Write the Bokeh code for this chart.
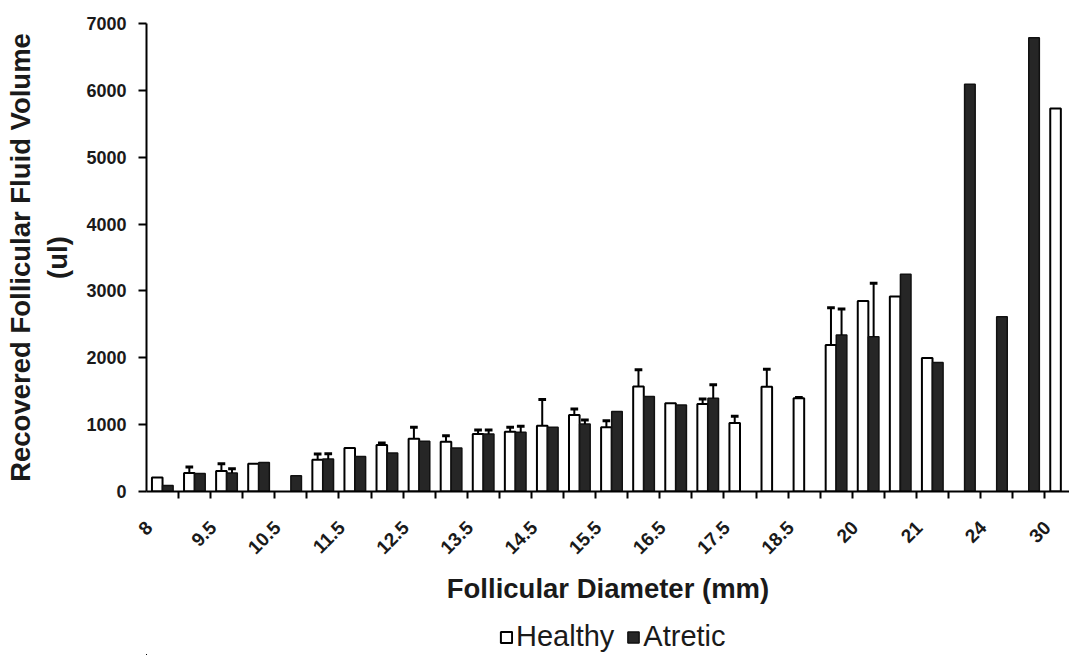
import math
from bokeh.plotting import figure
from bokeh.layouts import column
from bokeh.models import FixedTicker, Legend, LegendItem, ColumnDataSource, Range1d
from bokeh.embed import file_html
from bokeh.resources import INLINE

# ---- data ----
categories = ["8", "9", "9.5", "10", "10.5", "11", "11.5", "12", "12.5", "13",
              "13.5", "14", "14.5", "15", "15.5", "16", "16.5", "17", "17.5", "18",
              "18.5", "19", "20", "20.5", "21", "22", "24", "26", "30"]
healthy = [210, 275, 305, 415, 0, 475, 650, 695, 790, 745,
           860, 895, 985, 1145, 960, 1570, 1320, 1310, 1025, 1565,
           1395, 2190, 2850, 2915, 1995, 0, 0, 0, 5730]
healthy_err = [0, 90, 110, 0, 0, 85, 0, 30, 170, 90,
               60, 65, 390, 90, 100, 250, 0, 75, 100, 265,
               10, 560, 0, 0, 0, 0, 0, 0, 0]
atretic = [90, 270, 275, 435, 235, 485, 525, 575, 750, 650,
           860, 885, 960, 1010, 1195, 1420, 1295, 1395, 0, 0,
           0, 2340, 2315, 3250, 1930, 6090, 2615, 6785, 0]
atretic_err = [0, 0, 65, 0, 0, 80, 0, 0, 0, 0,
               60, 90, 0, 60, 0, 0, 0, 200, 0, 0,
               0, 390, 800, 0, 0, 0, 0, 0, 0]
y_ticks = [0, 1000, 2000, 3000, 4000, 5000, 6000, 7000]
series_names = ["Healthy", "Atretic"]

FONT = "Liberation Sans"
BW = 0.33        # bar width in category units
CAP = 0.12       # half width of error caps
LABEL_SHIFT = -0.42  # rotated tick labels sit slightly left of the category centre

n = len(categories)
idx = list(range(n))


def series_source(values, errs, offset):
    xs, tops, ex, ey0, ey1 = [], [], [], [], []
    for i, v, e in zip(idx, values, errs):
        if v > 0:
            xs.append(i + offset)
            tops.append(v)
            if e > 0:
                ex.append(i + offset)
                ey0.append(v)
                ey1.append(v + e)
    bars = ColumnDataSource(dict(x=xs, top=tops))
    errs_src = ColumnDataSource(dict(x=ex, y0=ey0, y1=ey1,
                                     cx0=[x - CAP for x in ex], cx1=[x + CAP for x in ex]))
    return bars, errs_src


p = figure(frame_width=923, frame_height=468,
           x_range=Range1d(-0.5, 28.27), y_range=Range1d(0, 7000),
           output_backend="svg", toolbar_location=None,
           min_border_left=146, min_border_right=0, min_border_top=23, min_border_bottom=124)
p.outline_line_color = None
p.grid.visible = False
p.background_fill_color = "white"
p.border_fill_color = "white"

h_bars, h_errs = series_source(healthy, healthy_err, -BW / 2)
a_bars, a_errs = series_source(atretic, atretic_err, BW / 2)

H_STYLE = dict(fill_color="white", line_color="black", line_width=2)
A_STYLE = dict(fill_color="#262626", line_color="#111111", line_width=1.5)

p.vbar(x="x", top="top", bottom=0, width=BW, source=h_bars, **H_STYLE)
p.vbar(x="x", top="top", bottom=0, width=BW, source=a_bars, **A_STYLE)

for src in (h_errs, a_errs):
    p.segment(x0="x", y0="y0", x1="x", y1="y1", source=src, line_color="black", line_width=2)
    p.segment(x0="cx0", y0="y1", x1="cx1", y1="y1", source=src, line_color="black", line_width=3)

# y axis
yax = p.yaxis[0]
yax.ticker = FixedTicker(ticks=y_ticks)
yax.axis_line_width = 2
yax.axis_line_color = "black"
yax.major_tick_out = 8
yax.major_tick_in = 0
yax.major_tick_line_width = 2
yax.minor_tick_line_color = None
yax.major_label_text_font = FONT
yax.major_label_text_font_style = "bold"
yax.major_label_text_font_size = "18px"
yax.major_label_text_color = "#1a1a1a"
yax.major_label_standoff = 12
yax.axis_label = "Recovered Follicular Fluid Volume\n(ul)"
yax.axis_label_text_font = FONT
yax.axis_label_text_font_style = "bold"
yax.axis_label_text_font_size = "27.5px"
yax.axis_label_text_color = "#1a1a1a"
yax.axis_label_standoff = 10

# x axis: boundary ticks as minor ticks, labels on every other category
label_pos = [i + LABEL_SHIFT for i in idx[::2]]
xax = p.xaxis[0]
xax.ticker = FixedTicker(ticks=label_pos, minor_ticks=[i + 0.5 for i in idx])
xax.major_label_overrides = {pos: categories[i] for pos, i in zip(label_pos, idx[::2])}
xax.axis_line_width = 2
xax.axis_line_color = "black"
xax.major_tick_line_color = None
xax.major_tick_out = 6
xax.major_tick_in = 0
xax.minor_tick_line_color = "black"
xax.minor_tick_line_width = 2
xax.minor_tick_out = 7
xax.minor_tick_in = 0
xax.major_label_orientation = math.pi / 4
xax.major_label_text_font = FONT
xax.major_label_text_font_style = "bold"
xax.major_label_text_font_size = "19px"
xax.major_label_text_color = "#1a1a1a"
xax.major_label_standoff = 26
xax.axis_label = "Follicular Diameter (mm)"
xax.axis_label_text_font = FONT
xax.axis_label_text_font_style = "bold"
xax.axis_label_text_font_size = "27.5px"
xax.axis_label_text_color = "#1a1a1a"
xax.axis_label_standoff = 10

# legend strip under the chart: its ranges lie far away from the data,
# so only the legend swatches and labels are visible
lg = figure(width=1069, height=40, output_backend="svg", toolbar_location=None,
            x_range=Range1d(10000, 10001), y_range=Range1d(100000, 100001),
            x_axis_type=None, y_axis_type=None,
            min_border_left=0, min_border_right=0, min_border_top=0, min_border_bottom=0)
lg.outline_line_color = None
lg.grid.visible = False
lg.border_fill_color = "white"
lh = lg.vbar(x="x", top="top", bottom=0, width=BW, source=h_bars, **H_STYLE)
la = lg.vbar(x="x", top="top", bottom=0, width=BW, source=a_bars, **A_STYLE)

legend = Legend(items=[LegendItem(label=series_names[0], renderers=[lh]),
                       LegendItem(label=series_names[1], renderers=[la])],
                orientation="horizontal", location=(353, 2))
legend.label_text_font = FONT
legend.label_text_font_size = "29px"
legend.label_text_color = "#1a1a1a"
legend.glyph_width = 14
legend.glyph_height = 14
legend.label_standoff = 3
legend.spacing = 12
legend.padding = 0
legend.margin = 0
legend.border_line_color = None
legend.background_fill_alpha = 0
lg.add_layout(legend)

layout = column(p, lg, spacing=0)
open("out.html", "w").write(file_html(layout, INLINE))
